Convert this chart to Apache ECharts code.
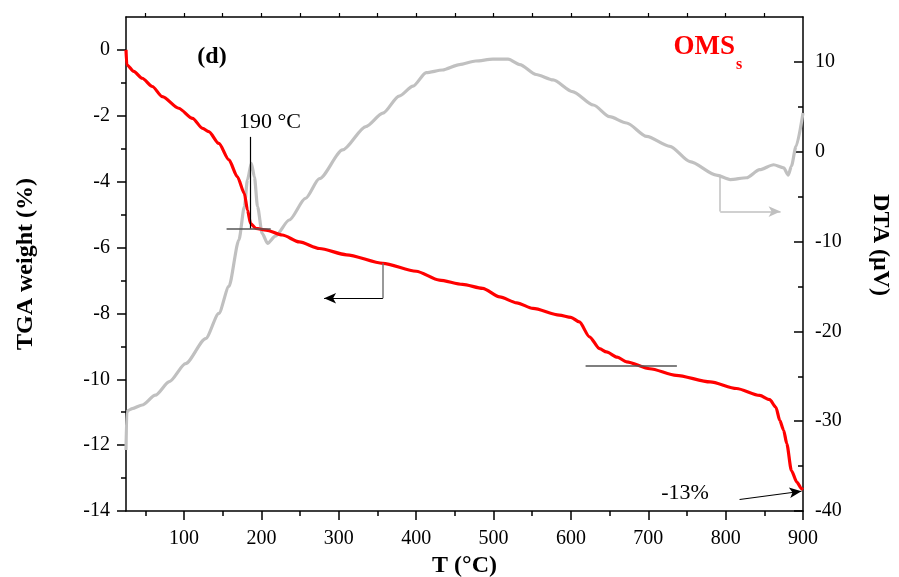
<!DOCTYPE html>
<html>
<head>
<meta charset="utf-8">
<script src="https://cdn.jsdelivr.net/npm/echarts@6/dist/echarts.min.js"></script>
<style>html,body{margin:0;padding:0;background:#fff}#c{width:899px;height:577px}</style>
</head>
<body>
<div id="c"></div>
<script>
// ---- data ----
const tgaT = [25, 26, 35, 46, 59, 72, 93, 111, 124, 132, 145, 158, 169, 178, 182, 186, 193, 206, 227, 249, 275, 310, 357, 400, 430, 460, 486, 508, 530, 551, 585, 600, 611, 624, 637, 646, 660, 672, 702, 736, 780, 814, 844, 857, 865, 870, 875, 879, 885, 892, 898, 900];
const tgaW = [0, -0.45, -0.65, -0.86, -1.11, -1.42, -1.77, -2.08, -2.38, -2.48, -2.84, -3.34, -3.85, -4.36, -4.86, -5.27, -5.42, -5.47, -5.62, -5.83, -6.03, -6.22, -6.48, -6.72, -6.99, -7.12, -7.24, -7.5, -7.68, -7.85, -8.05, -8.12, -8.26, -8.71, -9.07, -9.17, -9.33, -9.47, -9.68, -9.88, -10.08, -10.28, -10.49, -10.62, -10.85, -11.25, -11.55, -11.95, -12.77, -13.12, -13.32, -13.35];
const dtaT = [25, 26, 28, 33, 46, 63, 81, 102, 128, 145, 158, 171, 178, 182, 187, 191, 195, 201, 208, 218, 236, 257, 275, 305, 335, 357, 378, 396, 413, 434, 456, 477, 499, 519, 534, 555, 577, 602, 629, 650, 672, 698, 728, 754, 788, 806, 827, 844, 862, 875, 881, 885, 891, 900];
const dtaV = [-33.2, -29.0, -28.8, -28.6, -28.2, -27.1, -25.6, -23.6, -20.8, -18.0, -15.0, -9.8, -6.1, -3.1, -1.3, -2.8, -6.1, -9.1, -10.2, -9.4, -7.6, -5.2, -3.0, 0.2, 2.8, 4.3, 6.2, 7.3, 8.8, 9.1, 9.7, 10.1, 10.3, 10.3, 9.7, 8.6, 8.0, 6.7, 5.2, 3.9, 3.2, 1.7, 0.6, -1.1, -2.6, -3.1, -2.9, -2.0, -1.45, -1.8, -2.6, -1.6, 0.6, 4.3];

// tick labels
const xMajor = [100, 200, 300, 400, 500, 600, 700, 800, 900];
const xMinor = [50, 150, 250, 350, 450, 550, 650, 750, 850];
const xTop = [50, 100, 150, 200, 250, 300, 350, 400, 450, 500, 550, 600, 650, 700, 750, 800, 850];
const yLeftMajor = [-14, -12, -10, -8, -6, -4, -2, 0];
const yLeftMinor = [-13, -11, -9, -7, -5, -3, -1];
const yRightMajor = [-40, -30, -20, -10, 0, 10];
const yRightMinor = [-35, -25, -15, -5, 5];

// annotation guide lines (data coordinates)
const peakLine = [[186, -2.64], [186, -5.43]];
const peakBase = [[155, -5.43], [212, -5.43]];
const tgaArrowV = [[357, -6.48], [357, -7.54]];
const tgaArrowH = [[357, -7.54], [281, -7.54]];
const stepBase = [[619, -9.6], [737, -9.6]];
const lossArrow = [[818, -13.65], [898, -13.4]];
const dtaArrowV = [[793, -2.56], [793, -6.66]];
const dtaArrowH = [[793, -6.66], [871, -6.66]];

const FONT = 'Liberation Serif';
const chart = echarts.init(document.getElementById('c'), null, {renderer: 'canvas'});

const zip = (a, b) => a.map((v, i) => [v, b[i]]);
const seg = (p, col, w, endSym) => [
  {coord: p[0], symbol: 'none', lineStyle: {color: col, width: w, type: 'solid'}},
  {coord: p[1], symbol: endSym || 'none'}
];
const lab = {fontFamily: FONT, fontSize: 20, color: '#000'};
const axLine = {show: true, onZero: false, lineStyle: {color: '#000', width: 1.5}};
const noLine = {show: false, onZero: false};
const gridBox = {left: 126, right: 96, top: 17, bottom: 66, containLabel: false, outerBoundsMode: 'none'};

chart.setOption({
  animation: false,
  backgroundColor: '#fff',
  grid: [gridBox, Object.assign({}, gridBox)],
  xAxis: [
    {type: 'value', gridIndex: 0, position: 'bottom', min: 25, max: 900,
     axisLine: axLine, splitLine: {show: false},
     axisTick: {show: true, customValues: xMajor, length: 9, lineStyle: {color: '#000', width: 1.5}},
     axisLabel: Object.assign({customValues: xMajor, margin: 20, lineHeight: 16}, lab),
     name: 'T (°C)', nameLocation: 'middle', nameGap: 36,
     nameTextStyle: {fontFamily: FONT, fontSize: 24, fontWeight: 'bold', color: '#000'}},
    {type: 'value', gridIndex: 0, position: 'top', min: 25, max: 900,
     axisLine: axLine, splitLine: {show: false},
     axisTick: {show: true, customValues: xTop, length: 4, lineStyle: {color: '#000', width: 1.2}},
     axisLabel: {show: false}},
    {type: 'value', gridIndex: 1, position: 'bottom', min: 25, max: 900,
     axisLine: noLine, splitLine: {show: false},
     axisTick: {show: true, customValues: xMinor, length: 5, lineStyle: {color: '#000', width: 1.5}},
     axisLabel: {show: false}}
  ],
  yAxis: [
    {type: 'value', gridIndex: 0, position: 'left', min: -14, max: 1,
     axisLine: axLine, splitLine: {show: false},
     axisTick: {show: true, customValues: yLeftMajor, length: 9, lineStyle: {color: '#000', width: 1.5}},
     axisLabel: Object.assign({customValues: yLeftMajor, margin: 16}, lab),
     name: 'TGA weight (%)', nameLocation: 'middle', nameGap: 88, nameRotate: 90,
     nameTextStyle: {fontFamily: FONT, fontSize: 24, fontWeight: 'bold', color: '#000'}},
    {type: 'value', gridIndex: 0, position: 'right', min: -40, max: 15,
     axisLine: axLine, splitLine: {show: false},
     axisTick: {show: true, inside: true, customValues: yRightMajor, length: 9, lineStyle: {color: '#000', width: 1.5}},
     axisLabel: Object.assign({customValues: yRightMajor, margin: 12}, lab)},
    {type: 'value', gridIndex: 1, position: 'left', min: -14, max: 1,
     axisLine: noLine, splitLine: {show: false},
     axisTick: {show: true, customValues: yLeftMinor, length: 5, lineStyle: {color: '#000', width: 1.5}},
     axisLabel: {show: false}},
    {type: 'value', gridIndex: 1, position: 'right', min: -40, max: 15,
     axisLine: noLine, splitLine: {show: false},
     axisTick: {show: true, inside: true, customValues: yRightMinor, length: 5, lineStyle: {color: '#000', width: 1.5}},
     axisLabel: {show: false}}
  ],
  series: [
    {name: 'DTA', type: 'line', xAxisIndex: 0, yAxisIndex: 1, data: zip(dtaT, dtaV),
     showSymbol: false, smooth: 0.25, smoothMonotone: 'x',
     lineStyle: {color: '#c0c0c0', width: 3.2}, z: 2,
     markLine: {silent: true, symbol: ['none', 'none'], symbolSize: [8, 12], label: {show: false},
       emphasis: {disabled: true},
       data: [seg(dtaArrowV, '#c0c0c0', 1.5), seg(dtaArrowH, '#c0c0c0', 1.5, 'arrow')],
       itemStyle: {color: '#c0c0c0'}}},
    {name: 'TGA', type: 'line', xAxisIndex: 0, yAxisIndex: 0, data: zip(tgaT, tgaW),
     showSymbol: false, smooth: 0.25, smoothMonotone: 'x',
     lineStyle: {color: '#ff0000', width: 3.2}, z: 3,
     markLine: {silent: true, symbol: ['none', 'none'], symbolSize: [8, 12], label: {show: false},
       emphasis: {disabled: true},
       itemStyle: {color: '#000'},
       data: [seg(peakLine, '#000', 1.2), seg(peakBase, '#555', 1.5),
              seg(tgaArrowV, '#777', 1.5), seg(tgaArrowH, '#000', 1.2, 'arrow'),
              seg(stepBase, '#555', 1.5), seg(lossArrow, '#000', 1.2, 'arrow')]}}
  ],
  graphic: [
    {type: 'text', x: 212, y: 57, style: {text: '(d)', fontFamily: FONT, fontSize: 24, fontWeight: 'bold', fill: '#000', align: 'center', verticalAlign: 'middle'}},
    {type: 'text', x: 270, y: 122, style: {text: '190 °C', fontFamily: FONT, fontSize: 22, fill: '#000', align: 'center', verticalAlign: 'middle'}},
    {type: 'text', x: 685, y: 493, style: {text: '-13%', fontFamily: FONT, fontSize: 22, fill: '#000', align: 'center', verticalAlign: 'middle'}},
    {type: 'text', x: 735, y: 47, style: {text: 'OMS', fontFamily: FONT, fontSize: 27, fontWeight: 'bold', fill: '#ff0000', align: 'right', verticalAlign: 'middle'}},
    {type: 'text', x: 736, y: 65, style: {text: 's', fontFamily: FONT, fontSize: 16, fontWeight: 'bold', fill: '#ff0000', align: 'left', verticalAlign: 'middle'}},
    {type: 'text', x: 880, y: 245, rotation: -Math.PI / 2, style: {text: 'DTA (μV)', fontFamily: FONT, fontSize: 24, fontWeight: 'bold', fill: '#000', align: 'center', verticalAlign: 'middle'}}
  ]
});
</script>
</body>
</html>
